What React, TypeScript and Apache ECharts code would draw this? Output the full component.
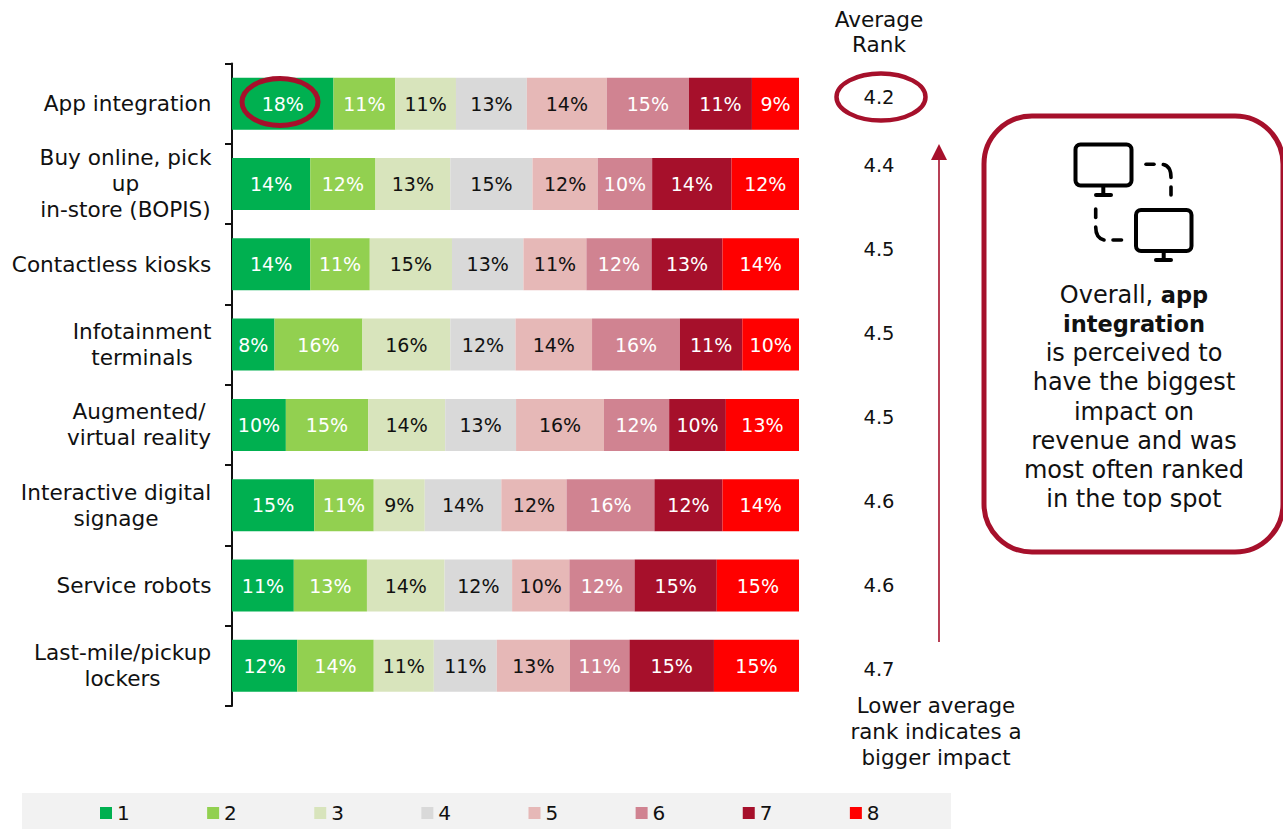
import React, { useEffect, useRef } from "react";
import * as echarts from "echarts";

const FONT = "DejaVu Sans";
const FS = 21.6;
const VALUE_FS = 19.5;
const RED = "#A6102B";

const categories = [
  "App integration",
  "Buy online, pick\nup\nin-store (BOPIS)",
  "Contactless kiosks",
  "Infotainment\nterminals",
  "Augmented/\nvirtual reality",
  "Interactive digital\nsignage",
  "Service robots",
  "Last-mile/pickup\nlockers",
];
const rank1 = [17.9, 13.8, 13.8, 7.5, 9.5, 14.5, 10.9, 11.5];
const rank2 = [10.9, 11.5, 10.5, 15.5, 14.5, 10.5, 12.9, 13.5];
const rank3 = [10.7, 13.2, 14.5, 15.5, 13.6, 9.0, 13.7, 10.6];
const rank4 = [12.5, 14.5, 12.6, 11.5, 12.5, 13.5, 11.9, 11.1];
const rank5 = [14.1, 11.5, 11.1, 13.5, 15.5, 11.5, 10.1, 12.9];
const rank6 = [14.5, 9.6, 11.5, 15.5, 11.5, 15.5, 11.5, 10.5];
const rank7 = [11.1, 14.0, 12.5, 11.0, 10.0, 12.0, 14.5, 14.9];
const rank8 = [8.5, 12.0, 13.5, 10.0, 12.9, 13.5, 14.5, 15.0];
const seriesValues = [rank1, rank2, rank3, rank4, rank5, rank6, rank7, rank8];
const seriesNames = ["1", "2", "3", "4", "5", "6", "7", "8"];
const seriesColors = ["#00B050", "#92D050", "#D8E4BC", "#D9D9D9", "#E6B8B7", "#D08391", "#A6102B", "#FF0000"];
const labelColors = ["#fff", "#fff", "#111", "#111", "#111", "#fff", "#fff", "#fff"];
const averageRanks = ["4.2", "4.4", "4.5", "4.5", "4.5", "4.6", "4.6", "4.7"];

function measure(text: string): number {
  const ctx = document.createElement("canvas").getContext("2d")!;
  ctx.font = `${FS}px "${FONT}"`;
  return ctx.measureText(text).width;
}

function buildRich() {
  const rich: Record<string, any> = {};
  categories.forEach((c, i) => {
    const w = Math.max(...c.split("\n").map(measure));
    rich["c" + i] = {
      width: Math.ceil(w) + 1,
      align: "center",
      fontFamily: FONT,
      fontSize: FS,
      lineHeight: 26,
      color: "#111",
    };
  });
  return rich;
}

function buildGraphic() {
  const icon = { stroke: "#000", fill: "none", lineWidth: 4, lineCap: "round" as const };
  const dash = { ...icon, lineWidth: 3.6 };
  const line = (x1: number, y1: number, x2: number, y2: number, style: any = icon) => ({
    type: "line",
    shape: { x1, y1, x2, y2 },
    style,
  });
  const curve = (x1: number, y1: number, cx: number, cy: number, x2: number, y2: number) => ({
    type: "bezierCurve",
    shape: { x1, y1, cpx1: cx, cpy1: cy, x2, y2 },
    style: dash,
  });
  const text = (x: number, y: number, t: string, extra: any = {}) => ({
    type: "text",
    x,
    y,
    style: {
      text: t,
      fontFamily: FONT,
      fontSize: FS,
      fill: "#111",
      align: "center",
      verticalAlign: "middle",
      ...extra,
    },
  });

  return [
    { type: "rect", z: -1, shape: { x: 22, y: 793, width: 929, height: 36 }, style: { fill: "#F2F2F2" } },
    { type: "ellipse", z: 10, shape: { cx: 280, cy: 102, rx: 38, ry: 23.5 }, style: { fill: "none", stroke: RED, lineWidth: 5 } },
    { type: "ellipse", z: 10, shape: { cx: 881, cy: 97, rx: 44.5, ry: 23.5 }, style: { fill: "none", stroke: RED, lineWidth: 4.5 } },
    text(879, 32, "Average\nRank", { lineHeight: 25 }),
    ...averageRanks.map((r, i) => text(879, i === 0 ? 97 : 165 + 84 * (i - 1), r, { fontSize: VALUE_FS })),
    line(939, 642, 939, 158, { stroke: RED, lineWidth: 1.6 }),
    { type: "polygon", shape: { points: [[939, 144], [931, 160], [947, 160]] }, style: { fill: RED } },
    text(936, 731, "Lower average\nrank indicates a\nbigger impact", { lineHeight: 26, fontSize: 21.4 }),
    { type: "rect", shape: { x: 984, y: 116, width: 299, height: 436, r: 48 }, style: { fill: "#fff", stroke: RED, lineWidth: 5 } },
    { type: "rect", z: 2, shape: { x: 1075.5, y: 144.5, width: 56, height: 41, r: 5 }, style: icon },
    line(1103.3, 187, 1103.3, 195),
    line(1096, 195, 1111, 195),
    { type: "rect", z: 2, shape: { x: 1136, y: 210, width: 55.5, height: 41, r: 5 }, style: icon },
    line(1163.7, 252, 1163.7, 260),
    line(1156, 260, 1171, 260),
    line(1146, 164.3, 1154, 164.3, dash),
    curve(1163.3, 164.5, 1171, 166, 1171, 177.5),
    line(1171, 187, 1171, 195, dash),
    line(1095.7, 209, 1095.7, 217.5, dash),
    curve(1095.7, 227, 1095.7, 238, 1104, 240),
    line(1113, 240, 1121.5, 240, dash),
    {
      type: "text",
      z: 3,
      x: 1134,
      y: 397,
      style: {
        text: "Overall, {b|app}\n{b|integration}\nis perceived to\nhave the biggest\nimpact on\nrevenue and was\nmost often ranked\nin the top spot",
        fontFamily: FONT,
        fontSize: 24,
        lineHeight: 29.2,
        fill: "#111",
        align: "center",
        verticalAlign: "middle",
        rich: {
          b: { fontFamily: FONT, fontSize: 22.5, fontWeight: 700, lineHeight: 29.2, fill: "#111" },
        },
      },
    },
  ];
}

export default function App() {
  const ref = useRef<HTMLDivElement>(null);

  useEffect(() => {
    document.body.style.margin = "0";
    const chart = echarts.init(ref.current!, undefined, { renderer: "svg" });
    const rich = buildRich();
    chart.setOption({
      animation: false,
      backgroundColor: "#fff",
      textStyle: { fontFamily: FONT },
      grid: { left: 232, top: 63.5, width: 567, height: 642.5 },
      xAxis: { type: "value", min: 0, max: 100, show: false },
      yAxis: {
        type: "category",
        inverse: true,
        data: categories,
        axisLine: { show: true, lineStyle: { color: "#111", width: 2 } },
        axisTick: { show: true, length: 7, lineStyle: { color: "#111", width: 2 } },
        axisLabel: {
          margin: 20,
          interval: 0,
          align: "right",
          formatter: (v: string) => {
            const i = categories.indexOf(v);
            return v.split("\n").map((l) => `{c${i}|${l}}`).join("\n");
          },
          rich,
        },
      },
      legend: {
        left: 100,
        top: 803,
        padding: 0,
        icon: "rect",
        itemWidth: 12,
        itemHeight: 12,
        itemGap: 77.4,
        selectedMode: false,
        data: seriesNames,
        textStyle: { fontFamily: FONT, fontSize: 20, color: "#111" },
      },
      series: seriesNames.map((name, s) => ({
        name,
        type: "bar",
        stack: "ranks",
        barWidth: 52,
        data: seriesValues[s],
        itemStyle: { color: seriesColors[s] },
        label: {
          show: true,
          position: "inside",
          color: labelColors[s],
          fontFamily: FONT,
          fontSize: 19,
          formatter: (p: any) => `${Math.round(p.value)}%`,
        },
      })),
      graphic: { elements: buildGraphic() },
    });
    return () => chart.dispose();
  }, []);

  return <div ref={ref} style={{ width: 1283, height: 829 }} />;
}
